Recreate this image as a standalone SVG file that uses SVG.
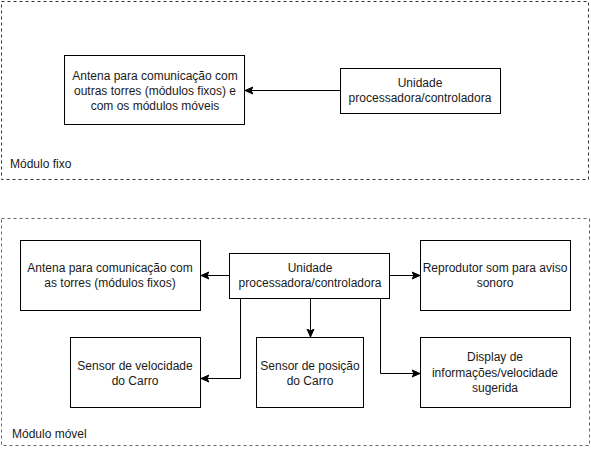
<svg xmlns="http://www.w3.org/2000/svg" width="591" height="449" viewBox="0 0 591 449">
<style>
.box{fill:#fff;stroke:#000;stroke-width:1}
.cont{fill:none;stroke-width:1;stroke-dasharray:3 3}
.t{font-family:"Liberation Sans",Arial,sans-serif;font-size:12px;fill:#1a1a1a;text-anchor:middle}
.tl{font-family:"Liberation Sans",Arial,sans-serif;font-size:12px;fill:#1a1a1a;text-anchor:start}
.c{fill:none;stroke:#000;stroke-width:1}
</style>
<defs>
<marker id="arr" markerWidth="10" markerHeight="10" refX="8" refY="5" orient="auto" markerUnits="userSpaceOnUse">
<path d="M0,1.5 L8,5 L0,8.5 L2,5 Z" fill="#000" stroke="#000" stroke-width="1"/>
</marker>
</defs>
<g id="modulo-fixo">
<rect class="cont" x="1.5" y="1.5" width="587" height="178" stroke="#333"/>
<text class="tl" x="10" y="168">Módulo fixo</text>
</g>
<g id="modulo-movel">
<rect class="cont" x="1.5" y="218.5" width="588" height="227" stroke="#666"/>
<text class="tl" x="12" y="438">Módulo móvel</text>
</g>
<g id="antena-fixo">
<rect class="box" x="64.5" y="55.5" width="180" height="69"/>
<text class="t" x="155" y="80">Antena para comunicação com</text>
<text class="t" x="155" y="95">outras torres (módulos fixos) e</text>
<text class="t" x="155" y="110">com os módulos móveis</text>
</g>
<g id="unidade-fixo">
<rect class="box" x="340.5" y="68.5" width="160" height="45"/>
<text class="t" x="420" y="87">Unidade</text>
<text class="t" x="420" y="102">processadora/controladora</text>
</g>
<g id="antena-movel">
<rect class="box" x="20.5" y="240.5" width="180" height="70"/>
<text class="t" x="110" y="272">Antena para comunicação com</text>
<text class="t" x="110" y="287">as torres (módulos fixos)</text>
</g>
<g id="unidade-movel">
<rect class="box" x="229.5" y="253.5" width="160" height="45"/>
<text class="t" x="310" y="272">Unidade</text>
<text class="t" x="310" y="287">processadora/controladora</text>
</g>
<g id="reprodutor">
<rect class="box" x="420.5" y="240.5" width="150" height="70"/>
<text class="t" x="495" y="272">Reprodutor som para aviso</text>
<text class="t" x="495" y="287">sonoro</text>
</g>
<g id="sensor-velocidade">
<rect class="box" x="70.5" y="337.5" width="130" height="70"/>
<text class="t" x="135" y="370">Sensor de velocidade</text>
<text class="t" x="135" y="385">do Carro</text>
</g>
<g id="sensor-posicao">
<rect class="box" x="256.5" y="337.5" width="107" height="70"/>
<text class="t" x="310" y="370">Sensor de posição</text>
<text class="t" x="310" y="385">do Carro</text>
</g>
<g id="display">
<rect class="box" x="420.5" y="337.5" width="150" height="70"/>
<text class="t" x="495" y="361">Display de</text>
<text class="t" x="495" y="377">informações/velocidade</text>
<text class="t" x="495" y="392">sugerida</text>
</g>
<g id="connectors">
<path class="c" d="M340.5,90.5 H245" marker-end="url(#arr)"/>
<path class="c" d="M229.5,275.5 H201" marker-end="url(#arr)"/>
<path class="c" d="M389.5,275.5 H420" marker-end="url(#arr)"/>
<path class="c" d="M310.5,298.5 V337" marker-end="url(#arr)"/>
<path class="c" d="M240.5,298.5 V378.5 H201" marker-end="url(#arr)"/>
<path class="c" d="M380.5,298.5 V373.5 H420" marker-end="url(#arr)"/>
</g>
</svg>
